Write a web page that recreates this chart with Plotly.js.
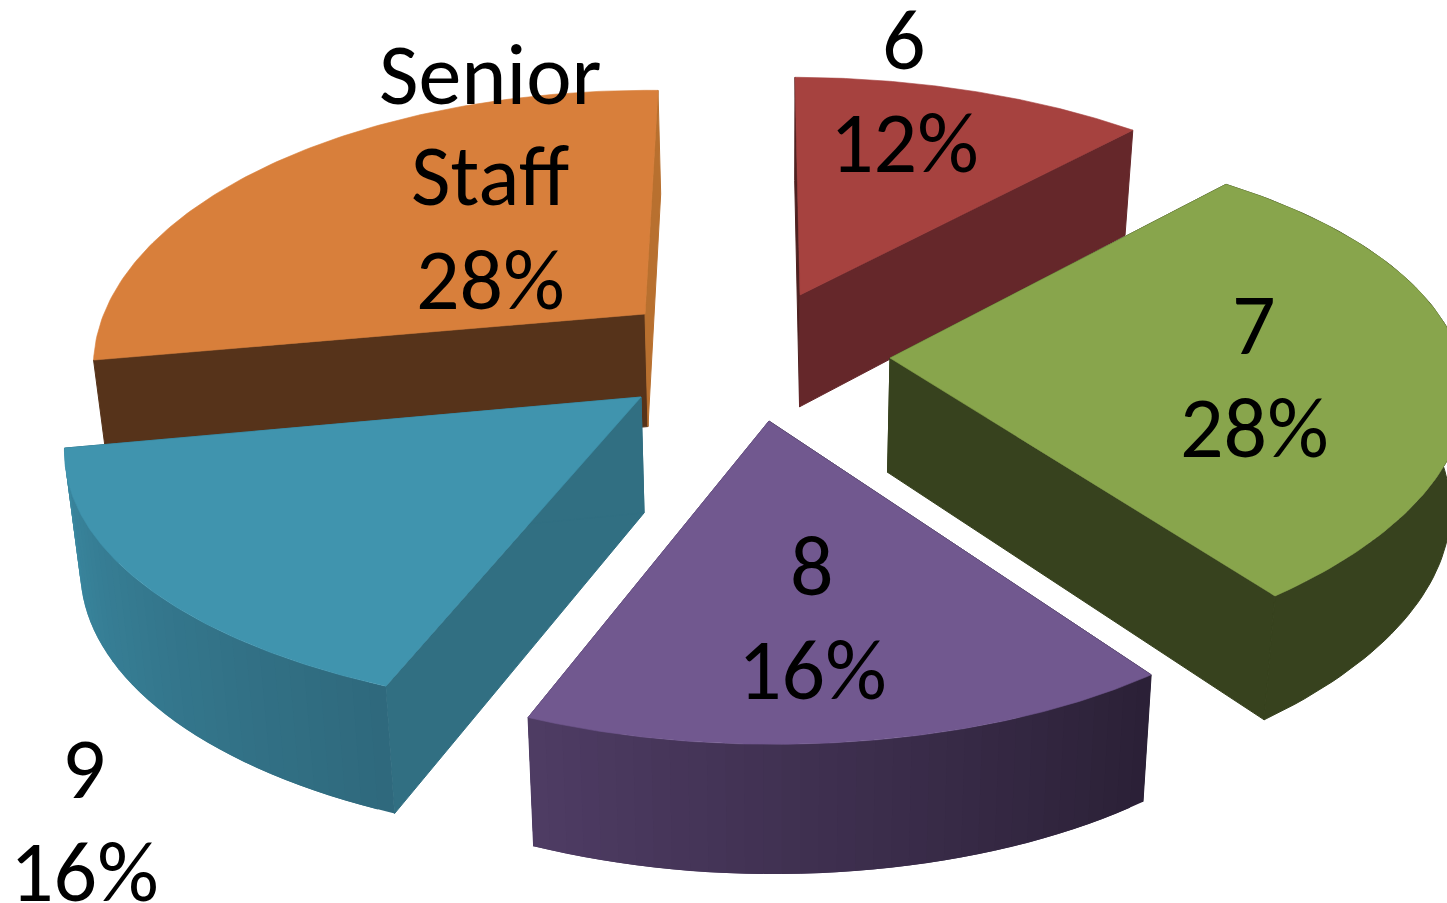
<!DOCTYPE html>
<html>
<head>
<meta charset="utf-8">
<script src="https://cdn.plot.ly/plotly-3.0.1.min.js"></script>
<style>html,body{margin:0;padding:0;background:#fff;overflow:hidden}</style>
</head>
<body>
<div id="chart" style="width:1447px;height:903px"></div>
<script>
// ---- data (clockwise from 12 o'clock) ----
const categories = ['6', '7', '8', '9', 'Senior Staff'];
const values = [12, 28, 16, 16, 28];

// ---- look: exploded slice placement and projection, per slice ----
const apexX = [800, 890, 769, 641, 645];
const apexY = [295, 358, 421, 397, 314];
const radiusX = [558, 557, 549, 566, 539];
const radiusY = [258, 259, 265, 257, 265];
const lean = [-5.9, 0, -2.8, 3.1, 15.4];
const tilt = [1.5, -12.2, 2.4, -1.2, 5.3];
const bulgeX = [0, 9, 0, -2, 0];
const bulgeY = [0, 0, -2, 0, 0];
const topColor = ['#A6423F', '#88A54C', '#71588F', '#4094AE', '#D87F3B'];
const startFace = ['#4E2120', '#37421E', '#2A2036', '#316F82', '#56331A'];
const endFace = ['#65272A', '#37421E', '#4F3C64', '#316F82', '#B8702F'];
const rimFrom = [null, '#37421E', '#2A2036', '#2F697C', null];
const rimTo = [null, '#37421E', '#4F3C64', '#3A88A1', null];
const drawOrder = [4, 0, 1, 3, 2];
const perspective = 0.185;
const labelLines = [['6'], ['7'], ['8'], ['9'], ['Senior', 'Staff']];
const labelX = [904, 1254, 812, 84, 490];
const labelY = [[39, 142], [324, 427], [565, 669], [768, 871], [74, 175, 279]];
const labelSize = 86;

const total = values.reduce((a, b) => a + b, 0);
const RAD = Math.PI / 180;
const startOf = [];
values.reduce((acc, v, i) => { startOf[i] = acc; return acc + v; }, 0);

function rimPoint(i, deg) {
  const a0 = startOf[i] / total * 360, a1 = (startOf[i] + values[i]) / total * 360;
  const X = Math.sin(deg * RAD), Y = Math.cos(deg * RAD);
  const s = 1 / (1 + perspective * Y);
  const b = Math.sin(Math.PI * (deg - a0) / (a1 - a0));
  return [apexX[i] + radiusX[i] * X * s + lean[i] * Y * s + bulgeX[i] * b,
          apexY[i] - radiusY[i] * Y * s + tilt[i] * X * s + bulgeY[i] * b];
}
function lower(p) {
  return [p[0] + (780 - p[0]) * 0.022, p[1] + 100 + 0.04 * p[1]];
}
function poly(points, color, width) {
  const xs = points.map(p => p[0]).concat(points[0][0]);
  const ys = points.map(p => p[1]).concat(points[0][1]);
  return {type: 'scatter', mode: 'lines', x: xs, y: ys, fill: 'toself', fillcolor: color,
          line: {color: color, width: width === undefined ? 0.6 : width},
          hoverinfo: 'skip', showlegend: false};
}
function hex(c) { return [1, 3, 5].map(k => parseInt(c.substr(k, 2), 16)); }
function mix(a, b, t) {
  const A = hex(a), B = hex(b);
  return 'rgb(' + A.map((v, k) => Math.round(v + (B[k] - v) * t)).join(',') + ')';
}

const traces = [];
drawOrder.forEach(i => {
  const a0 = startOf[i] / total * 360, a1 = (startOf[i] + values[i]) / total * 360;
  const apex = [apexX[i], apexY[i]];
  const p0 = rimPoint(i, a0), p1 = rimPoint(i, a1);
  traces.push(poly([apex, p0, lower(p0), lower(apex)], startFace[i], 1));
  traces.push(poly([apex, p1, lower(p1), lower(apex)], endFace[i], 1));
  if (rimFrom[i]) {
    if (rimFrom[i] === rimTo[i]) {
      const band = [], back = [];
      for (let k = 0; k <= 80; k++) {
        const q = rimPoint(i, a0 + (a1 - a0) * k / 80);
        band.push(q); back.unshift(lower(q));
      }
      traces.push(poly(band.concat(back), rimFrom[i], 1));
    } else {
      const strips = 36;
      for (let k = 0; k < strips; k++) {
        const b0 = a0 + (a1 - a0) * k / strips;
        const b1 = a0 + (a1 - a0) * (k + 1) / strips;
        const pts = [], low = [];
        for (let m = 0; m <= 3; m++) {
          // each strip runs on under its neighbour so no seam shows
          const q = rimPoint(i, b0 + (Math.min(a1, b1 + (a1 - a0) / strips) - b0) * m / 3);
          pts.push(q); low.unshift(lower(q));
        }
        traces.push(poly(pts.concat(low), mix(rimFrom[i], rimTo[i], (k + 0.5) / strips), 0));
      }
    }
  }
  const top = [apex];
  for (let k = 0; k <= 120; k++) top.push(rimPoint(i, a0 + (a1 - a0) * k / 120));
  traces.push(poly(top, topColor[i]));
});

const annotations = [];
categories.forEach((c, i) => {
  const lines = labelLines[i].concat(Math.round(values[i] / total * 100) + '%');
  lines.forEach((t, j) => annotations.push({
    x: labelX[i], y: labelY[i][j], xref: 'x', yref: 'y', text: t, showarrow: false,
    xanchor: 'center', yanchor: 'middle',
    font: {family: 'Carlito, Lato, sans-serif', size: labelSize, color: '#000'}
  }));
});

Plotly.newPlot('chart', traces, {
  width: 1447, height: 903,
  margin: {l: 0, r: 0, t: 0, b: 0},
  paper_bgcolor: '#fff', plot_bgcolor: '#fff',
  showlegend: false,
  xaxis: {range: [0, 1447], visible: false, fixedrange: true},
  yaxis: {range: [903, 0], visible: false, fixedrange: true},
  annotations: annotations
}, {displayModeBar: false, staticPlot: true});
</script>
</body>
</html>
